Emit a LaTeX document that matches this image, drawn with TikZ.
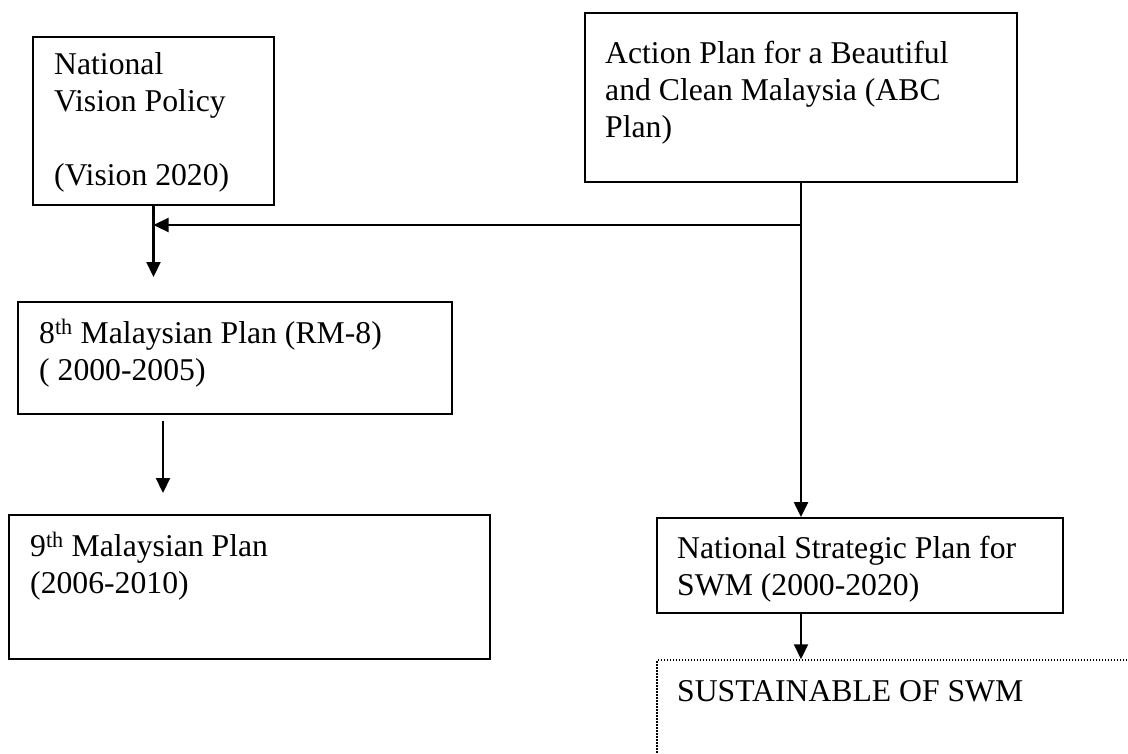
\documentclass[tikz,border=0pt]{standalone}
\usepackage{fontspec}
\setmainfont{Liberation Serif}
\usetikzlibrary{arrows.meta}
\begin{document}
\begin{tikzpicture}[x=1pt,y=-1pt,
  box/.style={draw, line width=1.8pt, inner sep=0pt},
  dotbox/.style={draw, line width=1.5pt, inner sep=0pt, dash pattern=on 1.5pt off 1.5pt},
  txt/.style={anchor=base west, inner sep=0pt, align=left, font=\fontsize{31.7}{36.7}\selectfont},
  conn/.style={line width=2.2pt, -{Triangle[length=15pt,width=14pt]}}]
\clip (0,0) rectangle (1128,753);
\useasboundingbox (0,0) rectangle (1128,753);
% boxes
\node[box, minimum width=241pt, minimum height=168pt] (b1) at (153.5,121) {};
\node[box, minimum width=432pt, minimum height=169pt] (b2) at (801,97.5) {};
\node[box, minimum width=434pt, minimum height=112pt] (b3) at (235,358) {};
\node[box, minimum width=481pt, minimum height=144pt] (b4) at (249.5,587) {};
\node[box, minimum width=406pt, minimum height=95pt] (b5) at (860,565.5) {};
\node[dotbox, minimum width=543pt, minimum height=140pt] (b6) at (928.5,730) {};
% texts (anchored at the baseline of the last line)
\node[txt] (t1) at (54,185) {National\\Vision Policy\\\mbox{}\\(Vision 2020)};
\node[txt] (t2) at (605,137) {Action Plan for a Beautiful\\and Clean Malaysia (ABC\\Plan)};
\node[txt] (t3) at (39,380) {8\textsuperscript{th} Malaysian Plan (RM-8)\\( 2000-2005)};
\node[txt] (t4) at (30,593) {9\textsuperscript{th} Malaysian Plan\\(2006-2010)};
\node[txt] (t5) at (677,595) {National Strategic Plan for\\SWM (2000-2020)};
\node[txt] (t6) at (677,701) {SUSTAINABLE OF SWM};
% connectors
\coordinate (a1) at (153.5,277);
\coordinate (j1) at (801,225);
\coordinate (j2) at (153.5,225);
\coordinate (c1) at (163,421);
\coordinate (c2) at (163,493);
\draw[conn] (b1.south) -- (a1);
\draw[conn] (j1) -- (j2);
\draw[conn] (b2.south) -- (b2.south |- b5.north);
\draw[conn] (c1) -- (c2);
\draw[conn] (b2.south |- b5.south) -- (b2.south |- b6.north);
\end{tikzpicture}
\end{document}
